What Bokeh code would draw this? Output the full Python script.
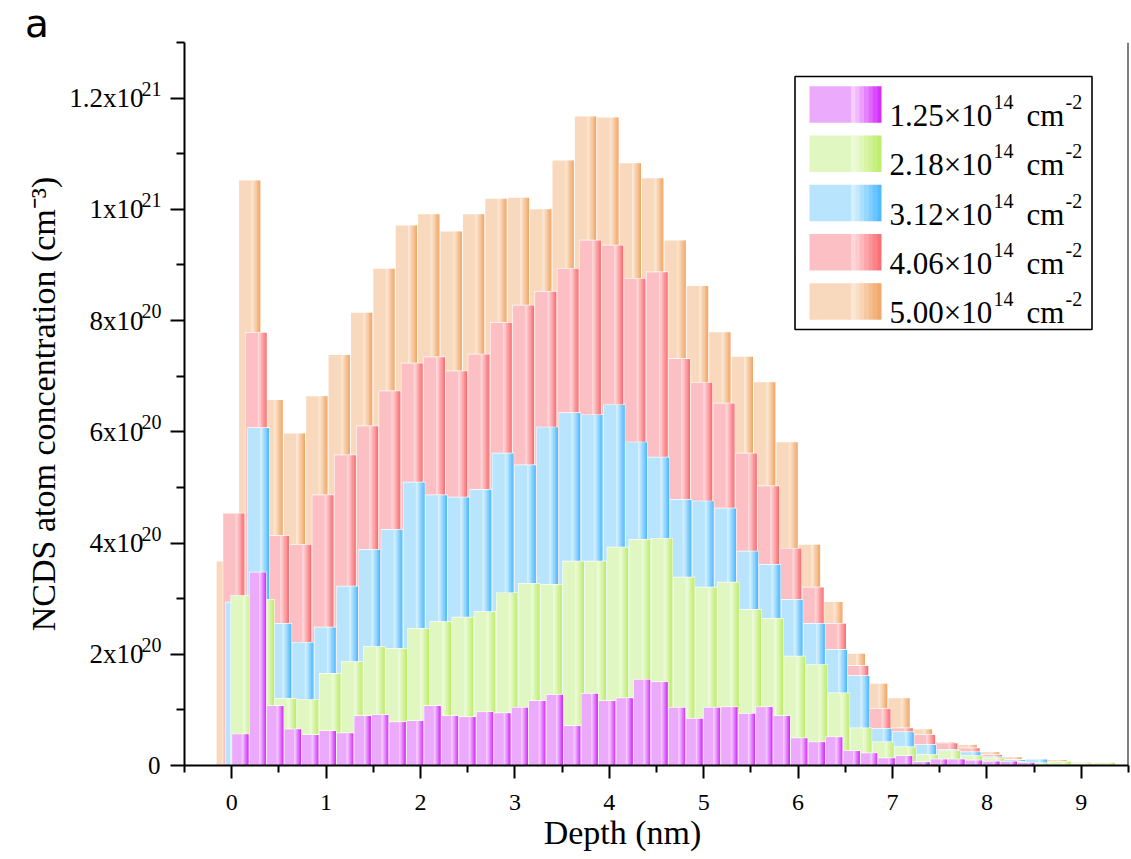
import numpy as np
from bokeh.plotting import figure
from bokeh.models import Range1d, FixedTicker, Span, LinearAxis, Div
from bokeh.layouts import column
from bokeh.core.properties import value
from bokeh.embed import file_html
from bokeh.resources import INLINE

# ---------------- data ----------------
# NCDS atom concentration per depth bin, in units of 1e20 cm^-3
fluence_labels = ["1.25", "2.18", "3.12", "4.06", "5.00"]

conc_125 = [0.56, 3.47, 1.07, 0.65, 0.55, 0.62, 0.58, 0.89, 0.91, 0.78,
            0.80, 1.07, 0.89, 0.87, 0.96, 0.94, 1.04, 1.16, 1.27, 0.71,
            1.29, 1.16, 1.21, 1.54, 1.50, 1.04, 0.84, 1.04, 1.05, 0.93,
            1.05, 0.89, 0.49, 0.42, 0.51, 0.26, 0.22, 0.13, 0.17, 0.06,
            0.11, 0.11, 0.09, 0.07, 0.07, 0.05]
conc_218 = [3.05, 2.98, 1.20, 1.18, 1.65, 1.86, 2.13, 2.10, 2.46, 2.58,
            2.66, 2.76, 3.10, 3.27, 3.25, 3.67, 3.67, 3.92, 4.06, 4.08,
            3.38, 3.20, 3.29, 2.80, 2.64, 1.96, 1.81, 1.30, 0.67, 0.42,
            0.33, 0.19, 0.26, 0.17, 0.13, 0.07, 0.04, 0.07, 0.03, 0.05]
conc_312 = [2.93, 6.07, 2.55, 2.21, 2.48, 3.22, 3.88, 4.24, 5.09, 4.86,
            4.82, 4.96, 5.61, 5.40, 6.08, 6.34, 6.30, 6.48, 5.81, 5.54,
            4.78, 4.75, 4.62, 3.85, 3.61, 2.98, 2.55, 2.08, 1.61, 0.66,
            0.60, 0.37, 0.28, 0.24, 0.15, 0.10, 0.11, 0.05, 0.02]
conc_406 = [4.53, 7.78, 4.13, 3.97, 4.86, 5.58, 6.10, 6.73, 7.23, 7.34,
            7.09, 7.39, 7.96, 8.27, 8.52, 8.93, 9.44, 9.35, 8.75, 8.87,
            7.31, 6.88, 6.51, 5.61, 5.02, 3.90, 3.20, 2.55, 1.79, 1.02,
            0.67, 0.55, 0.40, 0.31, 0.19, 0.09, 0.05, 0.04, 0.05]
conc_500 = [3.67, 10.52, 6.57, 5.97, 6.64, 7.38, 8.14, 8.93, 9.71, 9.91,
            9.60, 9.91, 10.19, 10.21, 10.00, 10.88, 11.67, 11.65, 10.83, 10.56,
            9.44, 8.62, 7.79, 7.35, 6.89, 5.81, 3.97, 2.94, 2.01, 1.47,
            1.21, 0.65, 0.42, 0.37, 0.24, 0.15, 0.11, 0.10, 0.03]

# depth bins (nm): left edge of the first bin and bin width, per fluence
bin_start = {"1.25": 0.005, "2.18": -0.008, "3.12": -0.064, "4.06": -0.090, "5.00": -0.160}
bin_width = {"1.25": 0.1850, "2.18": 0.2344, "3.12": 0.2355, "4.06": 0.2360, "5.00": 0.2372}

conc = {"1.25": conc_125, "2.18": conc_218, "3.12": conc_312, "4.06": conc_406, "5.00": conc_500}

# colours: (light, highlight, dark)
palette = {
    "1.25": ((236, 170, 252), (244, 206, 253), (212, 40, 252)),
    "2.18": ((224, 247, 193), (237, 251, 219), (189, 236, 105)),
    "3.12": ((184, 228, 253), (213, 240, 254), (76, 185, 255)),
    "4.06": ((252, 192, 196), (253, 215, 218), (250, 108, 112)),
    "5.00": ((249, 217, 189), (251, 231, 213), (242, 165, 100)),
}

y_tick_vals = [0, 2, 4, 6, 8, 10, 12]
y_tick_mant = ["0", "2x10", "4x10", "6x10", "8x10", "1x10", "1.2x10"]
y_tick_exp = ["", "20", "20", "20", "20", "21", "21"]
x_tick_vals = [0, 1, 2, 3, 4, 5, 6, 7, 8, 9]

# ---------------- layout ----------------
X0, X1 = -0.5, 9.5
Y0, Y1 = 0.0, 13.0
FW, FH = 944, 723            # frame size in px
PX_X = FW / (X1 - X0)
PX_Y = FH / (Y1 - Y0)
REF_L, REF_T = 184, 42       # frame origin on the page


def dx(px):   # page px -> data x
    return X0 + (px - REF_L) / PX_X


def dy(py):   # page px -> data y
    return Y1 - (py - REF_T) / PX_Y


def hexc(c):
    return "#%02x%02x%02x" % tuple(int(round(v)) for v in c)


def mix(a, b, t):
    return tuple(x + (y - x) * t for x, y in zip(a, b))


def strips(pal):
    light, hi, dark = pal
    out = [(0.0, 0.58, hexc(light)), (0.58, 0.635, hexc(hi))]
    n = 6
    for k in range(n):
        f0 = 0.635 + (1 - 0.635) * k / n
        f1 = 0.635 + (1 - 0.635) * (k + 1) / n
        t = (k + 0.75) / n
        out.append((f0, f1, hexc(mix(hi, dark, min(t, 1.0)))))
    return out


DIV_H = 40
p = figure(width=1130, height=817, x_range=Range1d(X0, X1), y_range=Range1d(Y0, Y1),
           output_backend="svg", toolbar_location=None,
           min_border_left=REF_L, min_border_right=2, min_border_top=REF_T - DIV_H,
           min_border_bottom=92)
p.outline_line_color = None
p.grid.visible = False
p.background_fill_color = "white"
p.border_fill_color = "white"

gap = 1.0 / PX_X
eps = 0.4 / PX_X


def draw_gradient_boxes(left, w, bottom, top, pal, backing=True):
    left = np.asarray(left, dtype=float)
    top = np.asarray(top, dtype=float)
    bottom = np.asarray(bottom, dtype=float) * np.ones_like(top)
    if backing:
        p.quad(left=left - 0.5 * gap, right=left + w + 0.5 * gap, bottom=bottom,
               top=top + 0.7 / PX_Y, fill_color="white", line_color=None)
    for f0, f1, col in strips(pal):
        r = min(f1 * w + eps, w)
        p.quad(left=left + f0 * w, right=left + r, bottom=bottom, top=top,
               fill_color=col, line_color=None)


# back to front: 5.00, 4.06, 3.12, 2.18, 1.25
for lab in ["5.00", "4.06", "3.12", "2.18", "1.25"]:
    vals = conc[lab]
    step = bin_width[lab]
    lefts = bin_start[lab] + step * np.arange(len(vals))
    draw_gradient_boxes(lefts, step - gap, 0.0, vals, palette[lab])

# ---------------- legend ----------------
p.quad(left=[dx(794.5)], right=[dx(1091.5)], bottom=[dy(329.0)], top=[dy(76.0)],
       fill_color="white", line_color="black", line_width=1.6)
for i, lab in enumerate(fluence_labels):
    y_top = 85.7 + 49.25 * i
    draw_gradient_boxes([dx(809)], (881 - 809) / PX_X, dy(y_top + 36.5), [dy(y_top)],
                        palette[lab], backing=False)
    base = 115.0 + 49.25 * i
    sup = base - 13.3
    p.text(x=[dx(889)], y=[dy(base)], text=[lab + "\u00d710"],
           text_font=value("Liberation Serif"), text_font_size=value("31px"),
           text_baseline="alphabetic", text_align="left", text_color="black")
    p.text(x=[dx(993)], y=[dy(sup)], text=["14"],
           text_font=value("Liberation Serif"), text_font_size=value("20px"),
           text_baseline="alphabetic", text_align="left", text_color="black")
    p.text(x=[dx(1026)], y=[dy(base)], text=["cm"],
           text_font=value("Liberation Serif"), text_font_size=value("31px"),
           text_baseline="alphabetic", text_align="left", text_color="black")
    p.text(x=[dx(1065)], y=[dy(sup)], text=["-2"],
           text_font=value("Liberation Serif"), text_font_size=value("20px"),
           text_baseline="alphabetic", text_align="left", text_color="black")

# ---------------- x axis ----------------
xa = p.xaxis[0]
xa.ticker = FixedTicker(ticks=x_tick_vals, minor_ticks=[k + 0.5 for k in range(-1, 10)])
xa.axis_line_width = 2
xa.major_tick_line_width = 2
xa.minor_tick_line_width = 2
xa.major_tick_in = 0
xa.major_tick_out = 13
xa.minor_tick_in = 0
xa.minor_tick_out = 7
xa.major_label_text_font = "Liberation Serif"
xa.major_label_text_font_size = "24px"
xa.major_label_text_color = "black"
xa.major_label_standoff = 16
xa.axis_label = "Depth (nm)" + "\u00a0" * 8
xa.axis_label_text_font = "Liberation Serif"
xa.axis_label_text_font_size = "34px"
xa.axis_label_text_font_style = "normal"
xa.axis_label_text_color = "black"
xa.axis_label_standoff = 1

# ---------------- y axes ----------------
# inner axis: spine, ticks and the "0" label
ya = p.yaxis[0]
ya.ticker = FixedTicker(ticks=y_tick_vals, minor_ticks=[1, 3, 5, 7, 9, 11, 13])
ya.major_label_overrides = {v: (m if v == 0 else "") for v, m in zip(y_tick_vals, y_tick_mant)}
ya.axis_line_width = 2
ya.major_tick_line_width = 2
ya.minor_tick_line_width = 2
ya.major_tick_in = 0
ya.major_tick_out = 14
ya.minor_tick_in = 0
ya.minor_tick_out = 8
ya.major_label_text_font = "Liberation Serif"
ya.major_label_text_font_size = "25px"
ya.major_label_text_color = "black"
ya.major_label_standoff = 10

# exponent labels, raised above the tick positions
RAISE = 9.5 / PX_Y
p.extra_y_ranges = {"exp": Range1d(Y0 - RAISE, Y1 - RAISE)}
ya_exp = LinearAxis(y_range_name="exp",
                    ticker=FixedTicker(ticks=y_tick_vals[1:], minor_ticks=[]),
                    major_label_overrides={v: e for v, e in zip(y_tick_vals[1:], y_tick_exp[1:])},
                    axis_line_color=None, major_tick_line_color=None, minor_tick_line_color=None,
                    major_tick_in=0, major_tick_out=0, minor_tick_in=0, minor_tick_out=0,
                    major_label_text_font="Liberation Serif", major_label_text_font_size="20px",
                    major_label_text_color="black", major_label_standoff=-17)
p.add_layout(ya_exp, "left")

# mantissa labels and the axis title
ya_man = LinearAxis(ticker=FixedTicker(ticks=y_tick_vals[1:], minor_ticks=[]),
                    major_label_overrides={v: m for v, m in zip(y_tick_vals[1:], y_tick_mant[1:])},
                    axis_line_color=None, major_tick_line_color=None, minor_tick_line_color=None,
                    major_tick_in=0, major_tick_out=0, minor_tick_in=0, minor_tick_out=0,
                    major_label_text_font="Liberation Serif", major_label_text_font_size="27px",
                    major_label_text_color="black", major_label_standoff=-5,
                    axis_label="NCDS atom concentration (cm\u207b\u00b3)",
                    axis_label_text_font="Liberation Serif", axis_label_text_font_size="34px",
                    axis_label_text_font_style="normal", axis_label_text_color="black",
                    axis_label_standoff=4)
p.add_layout(ya_man, "left")

p.add_layout(Span(location=X1, dimension="height", line_color="black", line_width=2))

panel_label = Div(text='<div style="font-family:\'DejaVu Sans\';font-size:39px;line-height:48px;'
                       'padding-left:25px;color:#000;margin:0;">a</div>',
                  width=200, height=DIV_H, margin=0)

layout = column(panel_label, p, spacing=0)
open("out.html", "w").write(file_html(layout, INLINE))
